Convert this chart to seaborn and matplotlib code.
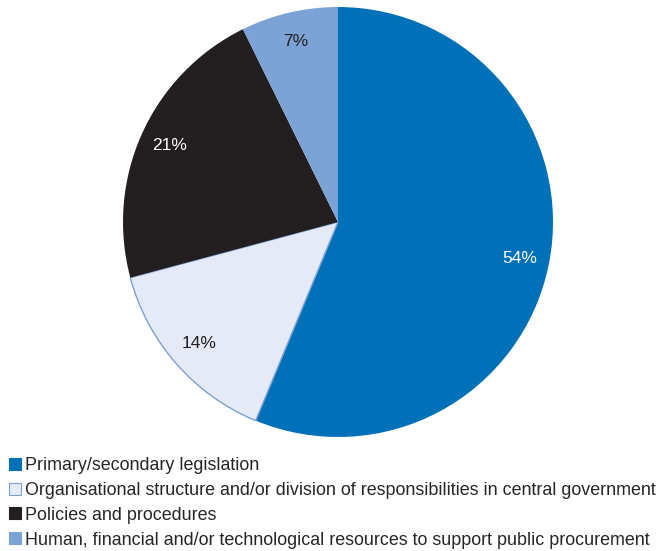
import matplotlib
matplotlib.use("Agg")
import matplotlib.pyplot as plt
from matplotlib.patches import Patch
import seaborn as sns

categories = [
    "Primary/secondary legislation",
    "Organisational structure and/or division of responsibilities in central government",
    "Policies and procedures",
    "Human, financial and/or technological resources to support public procurement",
]
values = [54, 14, 21, 7]
colors = ["#0070b8", "#e6eaf7", "#231f20", "#7ba3d6"]
text_colors = ["white", "#231f20", "white", "#231f20"]

sns.set_theme(style="white")
plt.rcParams["font.family"] = ["Liberation Sans", "DejaVu Sans"]

W, H = 659, 551
fig = plt.figure(figsize=(W / 100, H / 100), dpi=100)
cx, cy, r = 338, 222, 215
ax = fig.add_axes([(cx - r) / W, 1 - (cy + r) / H, 2 * r / W, 2 * r / H])

wedges, texts, autotexts = ax.pie(
    values,
    colors=colors,
    startangle=90,
    counterclock=False,
    autopct=lambda p: "",
    pctdistance=0.86,
    wedgeprops=dict(linewidth=0),
)
for w, v, tc, at in zip(wedges, values, text_colors, autotexts):
    at.set_text(f"{v}%")
    at.set_color(tc)
    at.set_fontsize(12.5)
wedges[1].set_edgecolor("#7ba0d4")
wedges[1].set_linewidth(1.0)
ax.set_aspect("equal")
ax.set_xlim(-1, 1)
ax.set_ylim(-1, 1)
ax.axis("off")

handles = [Patch(facecolor=c, edgecolor=("#7ba0d4" if i == 1 else c), linewidth=0.8)
           for i, c in enumerate(colors)]
fig.legend(
    handles, categories,
    loc="upper left", bbox_to_anchor=(9 / W, 1 - 457 / H),
    frameon=False, fontsize=12.9,
    handlelength=0.65, handleheight=0.65, handletextpad=0.25,
    labelspacing=0.44, borderpad=0, borderaxespad=0,
)

fig.savefig("out.png", dpi=100)
